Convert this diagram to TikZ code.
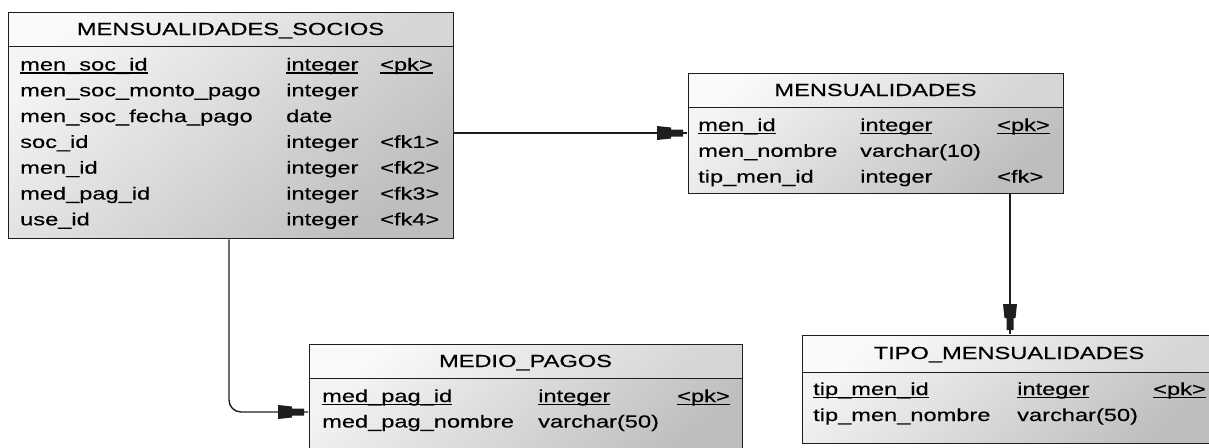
\documentclass[tikz,border=0pt]{standalone}
\usepackage{fontspec}
\setmainfont{Liberation Sans}[FakeStretch=1.35,FakeBold=0.35]
\newcommand\mkul[1]{\setbox0\hbox{#1}\rlap{\vrule height -1.9pt depth 3.3pt width \wd0}\box0}
\pgfdeclarearrow{
  name = ERD,
  setup code = {
    \pgfarrowssettipend{0pt}
    \pgfarrowssetlineend{-1pt}
    \pgfarrowssetvisualbackend{-31pt}
    \pgfarrowssetbackend{-31pt}
    \pgfarrowsupperhullpoint{-31pt}{7pt}
    \pgfarrowsupperhullpoint{0pt}{3.5pt}
  },
  drawing code = {
    \pgfpathmoveto{\pgfpoint{-31pt}{7pt}}
    \pgfpathlineto{\pgfpoint{-17pt}{5.5pt}}
    \pgfpathlineto{\pgfpoint{-17pt}{3.5pt}}
    \pgfpathlineto{\pgfpoint{-5pt}{3.5pt}}
    \pgfpathlineto{\pgfpoint{-5pt}{-3.5pt}}
    \pgfpathlineto{\pgfpoint{-17pt}{-3.5pt}}
    \pgfpathlineto{\pgfpoint{-17pt}{-5.5pt}}
    \pgfpathlineto{\pgfpoint{-31pt}{-7pt}}
    \pgfpathclose
    \pgfusepathqfill
  }
}
\definecolor{bodyA}{HTML}{F4F4F4}
\definecolor{bodyB}{HTML}{BEBEBE}
\definecolor{headA}{HTML}{FAFAFA}
\definecolor{headB}{HTML}{D6D6D6}
\definecolor{edge}{HTML}{1E1E1E}
\begin{document}
\begin{tikzpicture}[x=1pt,y=-1pt,
  tablebody/.style={draw=edge, line width=1.4pt, top color=bodyA, bottom color=bodyB,
    shading angle=40, inner sep=0pt, anchor=north west},
  tablehead/.style={draw=edge, line width=1.4pt, top color=headA, bottom color=headB,
    shading angle=40, inner sep=0pt, anchor=north west},
  txt/.style={anchor=base west, inner sep=0pt, font=\fontsize{17.5}{20}\selectfont},
  ttl/.style={anchor=base, inner sep=0pt, font=\fontsize{17.5}{20}\selectfont},
  conn/.style={line width=1.4pt, draw=edge, -ERD}]
\useasboundingbox (0,0) rectangle (1209,447);
\clip (0,0) rectangle (1209,447);

% ---------- MENSUALIDADES_SOCIOS ----------
\node[tablebody, minimum width=445pt, minimum height=226pt] (ms) at (8,12) {};
\node[tablehead, minimum width=445pt, minimum height=34pt] (msh) at (8,12) {};
\node[ttl] (mst) at (230.5,35) {MENSUALIDADES\_SOCIOS};
\node[txt] (ms1) at (20,70.5) {\mkul{men\_soc\_id}};
\node[txt] (ms2) at (20,96.3) {men\_soc\_monto\_pago};
\node[txt] (ms3) at (20,122.1) {men\_soc\_fecha\_pago};
\node[txt] (ms4) at (20,147.9) {soc\_id};
\node[txt] (ms5) at (20,173.7) {men\_id};
\node[txt] (ms6) at (20,199.5) {med\_pag\_id};
\node[txt] (ms7) at (20,225.3) {use\_id};
\node[txt] (ms1t) at (286,70.5) {\mkul{integer}};
\node[txt] (ms2t) at (286,96.3) {integer};
\node[txt] (ms3t) at (286,122.1) {date};
\node[txt] (ms4t) at (286,147.9) {integer};
\node[txt] (ms5t) at (286,173.7) {integer};
\node[txt] (ms6t) at (286,199.5) {integer};
\node[txt] (ms7t) at (286,225.3) {integer};
\node[txt] (ms1k) at (380,70.5) {\mkul{<pk>}};
\node[txt] (ms4k) at (380,147.9) {<fk1>};
\node[txt] (ms5k) at (380,173.7) {<fk2>};
\node[txt] (ms6k) at (380,199.5) {<fk3>};
\node[txt] (ms7k) at (380,225.3) {<fk4>};

% ---------- MENSUALIDADES ----------
\node[tablebody, minimum width=375pt, minimum height=120pt] (me) at (688,73) {};
\node[tablehead, minimum width=375pt, minimum height=34pt] (meh) at (688,73) {};
\node[ttl] (met) at (875.5,96) {MENSUALIDADES};
\node[txt] (me1) at (698,131) {\mkul{men\_id}};
\node[txt] (me2) at (698,156.8) {men\_nombre};
\node[txt] (me3) at (698,182.6) {tip\_men\_id};
\node[txt] (me1t) at (860,131) {\mkul{integer}};
\node[txt] (me2t) at (860,156.8) {varchar(10)};
\node[txt] (me3t) at (860,182.6) {integer};
\node[txt] (me1k) at (997,131) {\mkul{<pk>}};
\node[txt] (me3k) at (997,182.6) {<fk>};

% ---------- MEDIO_PAGOS ----------
\node[tablebody, minimum width=433pt, minimum height=116pt] (mp) at (309,344) {};
\node[tablehead, minimum width=433pt, minimum height=34pt] (mph) at (309,344) {};
\node[ttl] (mpt) at (525.5,367) {MEDIO\_PAGOS};
\node[txt] (mp1) at (322,402) {\mkul{med\_pag\_id}};
\node[txt] (mp2) at (322,427.5) {med\_pag\_nombre};
\node[txt] (mp1t) at (538,402) {\mkul{integer}};
\node[txt] (mp2t) at (538,427.5) {varchar(50)};
\node[txt] (mp1k) at (677,402) {\mkul{<pk>}};

% ---------- TIPO_MENSUALIDADES ----------
\node[tablebody, minimum width=423pt, minimum height=108pt] (tm) at (802,335) {};
\node[tablehead, minimum width=423pt, minimum height=37pt] (tmh) at (802,335) {};
\node[ttl] (tmt) at (1009,359) {TIPO\_MENSUALIDADES};
\node[txt] (tm1) at (813,395) {\mkul{tip\_men\_id}};
\node[txt] (tm2) at (813,421) {tip\_men\_nombre};
\node[txt] (tm1t) at (1017,395) {\mkul{integer}};
\node[txt] (tm2t) at (1017,421) {varchar(50)};
\node[txt] (tm1k) at (1153,395) {\mkul{<pk>}};

% ---------- connectors ----------
\draw[conn] (ms.east |- 0,133) -- (me.west |- 0,133);
\draw[conn] (me.south -| 1010,0) -- (tm.north -| 1010,0);
\draw[conn, rounded corners=12pt] (ms.south -| 229,0) |- (mp.west |- 0,412);
\end{tikzpicture}
\end{document}
